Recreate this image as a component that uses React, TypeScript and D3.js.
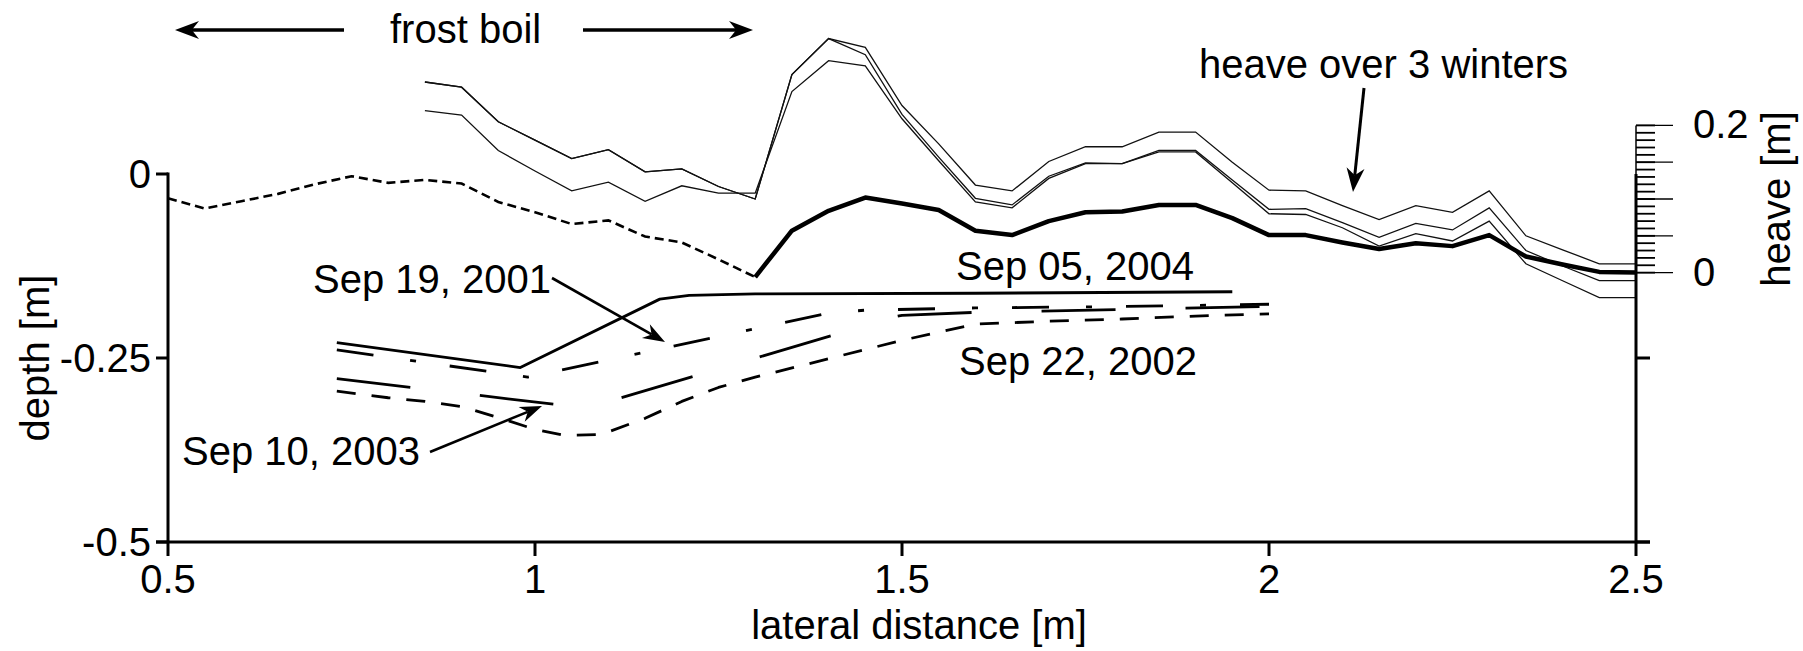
import React, { useEffect, useRef } from 'react';
import * as d3 from 'd3';

// lateral position [m] and depth [m] of the surface inside the frost boil (dotted)
const frostX = [0.5, 0.55, 0.6, 0.65, 0.7, 0.75, 0.8, 0.85, 0.9, 0.95, 1.0, 1.05, 1.1, 1.15, 1.2, 1.25, 1.3];
const frostDepth = [-0.033, -0.047, -0.037, -0.027, -0.014, -0.003, -0.012, -0.008, -0.013, -0.038, -0.052, -0.068, -0.063, -0.085, -0.093, -0.116, -0.140];

// surface outside the frost boil (thick)
const surfaceX = [1.3, 1.35, 1.4, 1.45, 1.5, 1.55, 1.6, 1.65, 1.7, 1.75, 1.8, 1.85, 1.9, 1.95, 2.0, 2.05, 2.1, 2.15, 2.2, 2.25, 2.3, 2.35, 2.4, 2.45, 2.5];
const surfaceDepth = [-0.140, -0.077, -0.050, -0.032, -0.040, -0.049, -0.077, -0.083, -0.064, -0.052, -0.051, -0.042, -0.042, -0.060, -0.083, -0.083, -0.093, -0.102, -0.094, -0.098, -0.083, -0.112, -0.123, -0.133, -0.134];

// surface after each of 3 winters (thin lines)
const heaveX = [0.85, 0.9, 0.95, 1.0, 1.05, 1.1, 1.15, 1.2, 1.25, 1.3, 1.35, 1.4, 1.45, 1.5, 1.55, 1.6, 1.65, 1.7, 1.75, 1.8, 1.85, 1.9, 1.95, 2.0, 2.05, 2.1, 2.15, 2.2, 2.25, 2.3, 2.35, 2.4, 2.45, 2.5];
const winter1 = [0.125, 0.118, 0.071, 0.046, 0.021, 0.033, 0.003, 0.007, -0.017, -0.034, 0.135, 0.184, 0.172, 0.093, 0.041, -0.015, -0.023, 0.017, 0.037, 0.037, 0.057, 0.057, 0.016, -0.022, -0.023, -0.043, -0.062, -0.043, -0.052, -0.023, -0.084, -0.103, -0.122, -0.122];
const winter2 = [0.125, 0.118, 0.071, 0.046, 0.021, 0.033, 0.003, 0.007, -0.017, -0.034, 0.135, 0.184, 0.162, 0.081, 0.023, -0.033, -0.042, -0.003, 0.015, 0.014, 0.032, 0.032, -0.008, -0.048, -0.047, -0.066, -0.086, -0.067, -0.076, -0.046, -0.104, -0.125, -0.145, -0.145];
const winter3 = [0.086, 0.080, 0.032, 0.004, -0.023, -0.011, -0.037, -0.016, -0.026, -0.026, 0.112, 0.154, 0.147, 0.075, 0.018, -0.038, -0.046, -0.006, 0.014, 0.014, 0.030, 0.030, -0.012, -0.054, -0.055, -0.073, -0.098, -0.081, -0.091, -0.064, -0.122, -0.145, -0.168, -0.168];

// thaw depth profiles
const sep2004X = [0.73, 0.98, 1.17, 1.21, 1.3, 1.6, 1.95];
const sep2004 = [-0.229, -0.263, -0.170, -0.165, -0.163, -0.162, -0.160];
const sep2001X = [0.73, 0.99, 1.4, 1.45, 1.6, 1.8, 2.0];
const sep2001 = [-0.239, -0.276, -0.189, -0.185, -0.182, -0.180, -0.177];
const sep2003X = [0.73, 1.07, 1.42, 1.47, 1.5, 1.6, 1.8, 2.0];
const sep2003 = [-0.278, -0.318, -0.215, -0.198, -0.192, -0.188, -0.184, -0.180];
const sep2002X = [0.73, 0.8, 0.85, 0.9, 0.95, 1.0, 1.04, 1.09, 1.15, 1.2, 1.25, 1.3, 1.4, 1.5, 1.6, 1.7, 1.8, 1.9, 2.0];
const sep2002 = [-0.295, -0.304, -0.309, -0.316, -0.331, -0.347, -0.355, -0.354, -0.332, -0.309, -0.290, -0.276, -0.251, -0.226, -0.204, -0.200, -0.197, -0.193, -0.190];

const xTicks = [0.5, 1, 1.5, 2, 2.5];
const xTickLabels = ['0.5', '1', '1.5', '2', '2.5'];
const yTicks = [0, -0.25, -0.5];
const yTickLabels = ['0', '-0.25', '-0.5'];
const heaveLabelTicks = [0, 0.2];
const heaveTickLabels = ['0', '0.2'];

const W = 1803;
const H = 651;
const FONT = "'Liberation Sans', Arial, Helvetica, sans-serif";

const App: React.FC = () => {
  const svgRef = useRef<SVGSVGElement>(null);

  useEffect(() => {
    if (!svgRef.current) return;
    const svg = d3.select(svgRef.current);
    svg.selectAll('*').remove();

    const x = d3.scaleLinear().domain([0.5, 2.5]).range([168, 1636]);
    const y = d3.scaleLinear().domain([0, -0.5]).range([174, 542]);
    // heave scale bar: zero at the end of the surface line, same m/px as depth
    const heaveZero = surfaceDepth[surfaceDepth.length - 1];
    const yH = d3.scaleLinear().domain([0, 0.2]).range([y(heaveZero), y(heaveZero + 0.2)]);

    const line = d3.line<[number, number]>().x(d => x(d[0])).y(d => y(d[1]));
    const pairs = (xs: number[], vs: number[]) => xs.map((v, i) => [v, vs[i]] as [number, number]);

    const text = (tx: number, ty: number, s: string, anchor = 'start') =>
      svg.append('text')
        .attr('x', tx).attr('y', ty)
        .attr('text-anchor', anchor)
        .style('font-family', FONT)
        .style('font-size', '40px')
        .style('fill', '#000')
        .text(s);

    const arrow = (x1: number, y1: number, x2: number, y2: number, w: number, len: number, half: number) => {
      const a = Math.atan2(y2 - y1, x2 - x1);
      const ca = Math.cos(a), sa = Math.sin(a);
      const bx = x2 - len * ca, by = y2 - len * sa;
      const nx = x2 - len * 0.7 * ca, ny = y2 - len * 0.7 * sa;
      svg.append('line')
        .attr('x1', x1).attr('y1', y1).attr('x2', nx).attr('y2', ny)
        .attr('stroke', '#000').attr('stroke-width', w);
      svg.append('path')
        .attr('d', `M${x2},${y2}L${bx - half * sa},${by + half * ca}L${nx},${ny}L${bx + half * sa},${by - half * ca}Z`)
        .attr('fill', '#000');
    };

    svg.append('rect').attr('width', W).attr('height', H).attr('fill', '#fff');

    // thin heave lines
    [winter1, winter2, winter3].forEach(vals => {
      svg.append('path')
        .attr('d', line(pairs(heaveX, vals)) as string)
        .attr('fill', 'none').attr('stroke', '#111').attr('stroke-width', 1.3)
        .attr('stroke-linejoin', 'miter');
    });

    // surface
    svg.append('path')
      .attr('d', line(pairs(frostX, frostDepth)) as string)
      .attr('fill', 'none').attr('stroke', '#000').attr('stroke-width', 2.6)
      .attr('stroke-dasharray', '9,5');
    svg.append('path')
      .attr('d', line(pairs(surfaceX, surfaceDepth)) as string)
      .attr('fill', 'none').attr('stroke', '#000').attr('stroke-width', 4.5)
      .attr('stroke-linejoin', 'round');

    // thaw depth lines
    const depthLines: Array<[number[], number[], string]> = [
      [sep2004X, sep2004, 'none'],
      [sep2001X, sep2001, '37,37,6,34'],
      [sep2003X, sep2003, '74,70'],
      [sep2002X, sep2002, '19,16'],
    ];
    depthLines.forEach(([xs, vs, dash]) => {
      svg.append('path')
        .attr('d', line(pairs(xs, vs)) as string)
        .attr('fill', 'none').attr('stroke', '#000').attr('stroke-width', 2.8)
        .attr('stroke-linejoin', 'round')
        .attr('stroke-dasharray', dash);
    });

    // axes
    const ax = svg.append('g').attr('stroke', '#000');
    ax.append('line').attr('x1', x(0.5)).attr('x2', x(0.5)).attr('y1', y(0) - 1.5).attr('y2', y(-0.5)).attr('stroke-width', 3);
    ax.append('line').attr('x1', x(0.5) - 12).attr('x2', x(2.5) + 14).attr('y1', y(-0.5)).attr('y2', y(-0.5)).attr('stroke-width', 3);
    ax.append('line').attr('x1', x(2.5)).attr('x2', x(2.5)).attr('y1', y(0)).attr('y2', y(-0.5)).attr('stroke-width', 3);
    yTicks.forEach(t => {
      ax.append('line').attr('x1', x(0.5) - 12).attr('x2', x(0.5)).attr('y1', y(t)).attr('y2', y(t)).attr('stroke-width', 3);
    });
    [-0.25, -0.5].forEach(t => {
      ax.append('line').attr('x1', x(2.5)).attr('x2', x(2.5) + 14).attr('y1', y(t)).attr('y2', y(t)).attr('stroke-width', 3);
    });
    xTicks.forEach(t => {
      ax.append('line').attr('x1', x(t)).attr('x2', x(t)).attr('y1', y(-0.5)).attr('y2', y(-0.5) + 14).attr('stroke-width', 3);
    });

    // heave scale bar
    ax.append('line').attr('x1', x(2.5)).attr('x2', x(2.5)).attr('y1', yH(0.2)).attr('y2', yH(0)).attr('stroke-width', 1.5);
    yH.ticks(20).forEach(t => {
      ax.append('line').attr('x1', x(2.5)).attr('x2', x(2.5) + 19).attr('y1', yH(t)).attr('y2', yH(t)).attr('stroke-width', 1.8);
    });
    yH.ticks(4).forEach(t => {
      ax.append('line').attr('x1', x(2.5)).attr('x2', x(2.5) + 37).attr('y1', yH(t)).attr('y2', yH(t)).attr('stroke-width', 1.3);
    });

    // tick labels
    xTicks.forEach((t, i) => text(x(t), 593, xTickLabels[i], 'middle'));
    yTicks.forEach((t, i) => text(x(0.5) - 17, y(t) + 14, yTickLabels[i], 'end'));
    heaveLabelTicks.forEach((t, i) => text(1693, yH(t) + 13, heaveTickLabels[i]));

    // axis titles
    text(919, 639, 'lateral distance [m]', 'middle');
    text(0, 0, 'depth [m]', 'middle').attr('transform', `translate(49, ${(y(0) + y(-0.5)) / 2}) rotate(-90)`);
    text(0, 0, 'heave [m]', 'middle').attr('transform', `translate(1790, ${(yH(0) + yH(0.2)) / 2}) rotate(-90)`);

    // annotations
    text(390, 43, 'frost boil');
    arrow(344, 30, 175, 30, 3.5, 24, 9);
    arrow(583, 30, 753, 30, 3.5, 24, 9);

    text(1199, 78, 'heave over 3 winters');
    arrow(1364, 88, 1353, 192, 3, 24, 9);

    text(313, 293, 'Sep 19, 2001');
    arrow(552, 278, 665, 342, 2.6, 22, 8);

    text(182, 465, 'Sep 10, 2003');
    arrow(430, 452, 542, 406, 2.6, 22, 8);

    text(956, 280, 'Sep 05, 2004');
    text(959, 375, 'Sep 22, 2002');
  }, []);

  return (
    <div style={{ position: 'absolute', left: 0, top: 0 }}>
      <svg ref={svgRef} width={W} height={H} style={{ display: 'block' }} />
    </div>
  );
};

export default App;
